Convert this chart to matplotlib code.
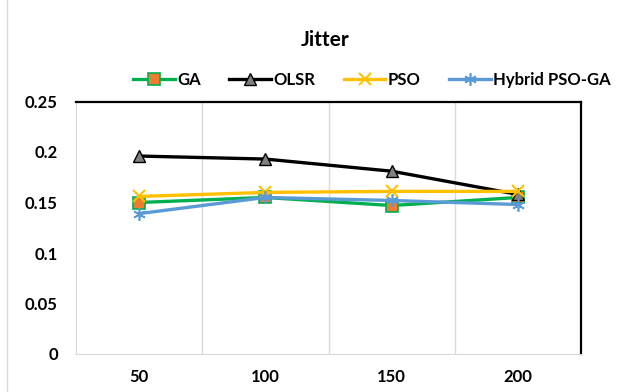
import matplotlib.pyplot as plt
from matplotlib.patches import Rectangle

plt.rcParams["font.family"] = ["Lato", "DejaVu Sans"]
plt.rcParams["font.weight"] = "bold"

categories = ["50", "100", "150", "200"]
ga = [0.150, 0.155, 0.147, 0.155]
olsr = [0.196, 0.193, 0.181, 0.158]
pso = [0.156, 0.160, 0.161, 0.161]
hybrid = [0.139, 0.155, 0.152, 0.148]
y_ticks = [0, 0.05, 0.1, 0.15, 0.2, 0.25]
y_labels = ["0", "0.05", "0.1", "0.15", "0.2", "0.25"]

fig = plt.figure(figsize=(6.38, 3.92), dpi=100)
ax = fig.add_axes([76 / 638, 38 / 392, 505 / 638, 252.5 / 392])

x = range(len(categories))
ax.plot(x, ga, color="#00B050", lw=2.4, marker="s", ms=8,
        mfc="#ED7D31", mec="#00B050", mew=1.2, label="GA")
ax.plot(x, olsr, color="black", lw=2.4, marker="^", ms=8,
        mfc="#808080", mec="black", mew=1.0, label="OLSR")
ax.plot(x, pso, color="#FFC000", lw=2.4, marker="x", ms=8,
        mew=1.5, label="PSO")
ax.plot(x, hybrid, color="#5B9BD5", lw=2.4, marker=(6, 2, 0), ms=9,
        mew=1.2, label="Hybrid PSO-GA")

ax.set_xlim(-0.5, 3.5)
ax.set_ylim(0, 0.25)
ax.set_xticks(list(x))
ax.set_xticklabels(categories)
ax.set_yticks(y_ticks)
ax.set_yticklabels(y_labels)
ax.tick_params(axis="both", length=0, labelsize=12)
ax.tick_params(axis="x", pad=11)
ax.tick_params(axis="y", pad=13)

for gx in [0.5, 1.5, 2.5]:
    ax.axvline(gx, color="#d9d9d9", lw=1.0, zorder=0)

ax.spines["left"].set_color("#d9d9d9")
ax.spines["bottom"].set_color("#d9d9d9")
ax.spines["top"].set_color("black")
ax.spines["right"].set_color("black")
ax.spines["top"].set_linewidth(1.6)
ax.spines["right"].set_linewidth(1.6)

fig.text(325 / 638, 1 - 40 / 392, "Jitter", ha="center", va="center",
         fontsize=15, fontweight="bold")

fig.legend(loc="center", bbox_to_anchor=(372 / 638, 1 - 80 / 392), ncol=4,
           frameon=False, fontsize=12, handlelength=2.5, columnspacing=1.7,
           handletextpad=0.15)

fig.patches.append(Rectangle((7 / 638, -0.01), 1.0, 1.02,
                             transform=fig.transFigure, fill=False,
                             edgecolor="#d9d9d9", lw=1.0))

fig.savefig("out.png", dpi=100)
